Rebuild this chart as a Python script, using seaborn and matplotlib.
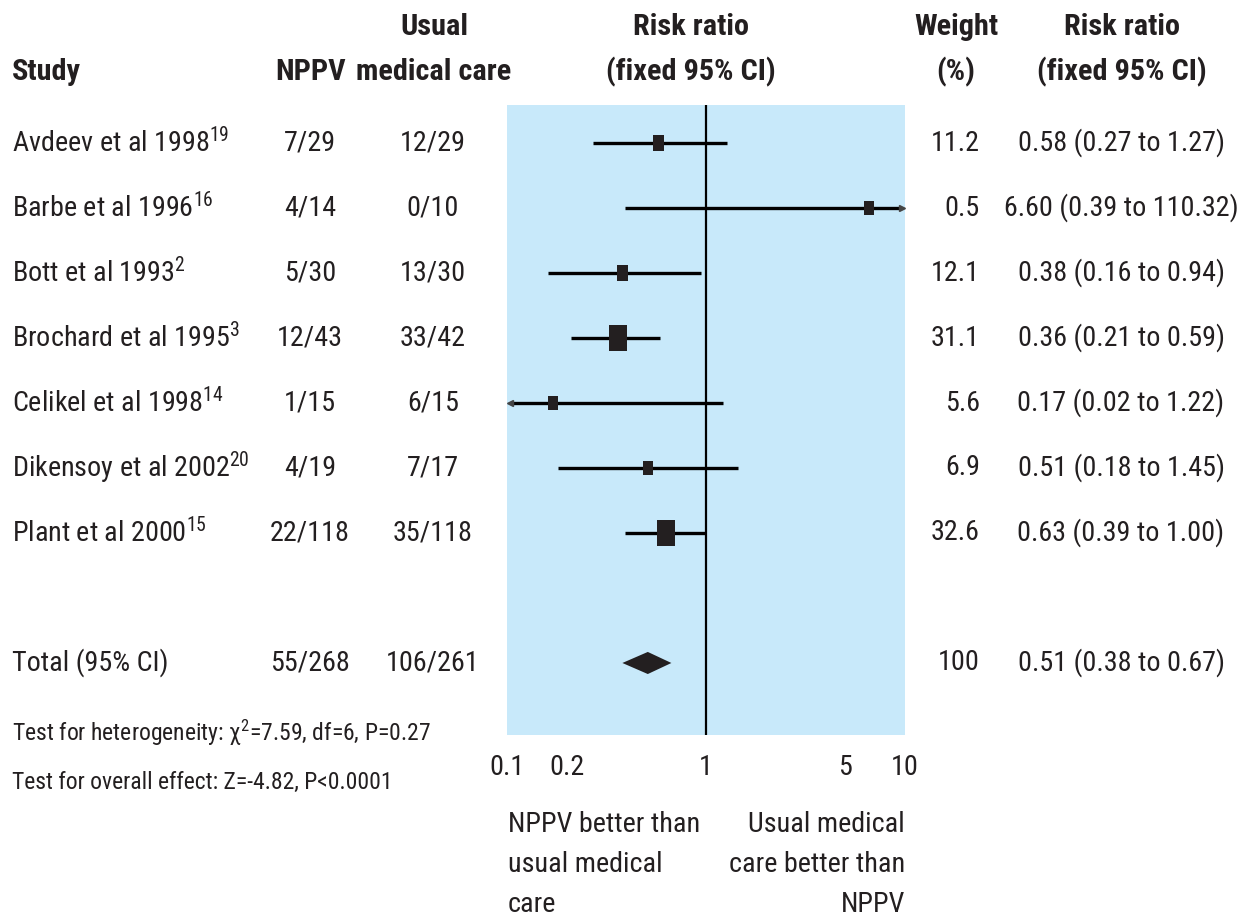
import numpy as np
import pandas as pd
import matplotlib
matplotlib.use("Agg")
import matplotlib.pyplot as plt
import seaborn as sns
from matplotlib import font_manager as fm
from matplotlib.transforms import blended_transform_factory

# ---------------- data ----------------
studies = ["Avdeev et al 1998", "Barbe et al 1996", "Bott et al 1993",
           "Brochard et al 1995", "Celikel et al 1998", "Dikensoy et al 2002",
           "Plant et al 2000"]
refs = ["19", "16", "2", "3", "14", "20", "15"]
nppv = ["7/29", "4/14", "5/30", "12/43", "1/15", "4/19", "22/118"]
usual = ["12/29", "0/10", "13/30", "33/42", "6/15", "7/17", "35/118"]
weights = [11.2, 0.5, 12.1, 31.1, 5.6, 6.9, 32.6]
rr = [0.58, 6.60, 0.38, 0.36, 0.17, 0.51, 0.63]
rr_lo = [0.27, 0.39, 0.16, 0.21, 0.02, 0.18, 0.39]
rr_hi = [1.27, 110.32, 0.94, 0.59, 1.22, 1.45, 1.00]

total_label = "Total (95% CI)"
total_nppv = "55/268"
total_usual = "106/261"
total_weight = "100"
total_rr, total_lo, total_hi = 0.51, 0.38, 0.67

xticks = [0.1, 0.2, 1, 5, 10]
xtick_labels = ["0.1", "0.2", "1", "5", "10"]
heterogeneity = "Test for heterogeneity: χ$^{2}$=7.59, df=6, P=0.27"
overall = "Test for overall effect: Z=-4.82, P<0.0001"
left_note = "NPPV better than\nusual medical\ncare"
right_note = "Usual medical\ncare better than\nNPPV"

# ---------------- style ----------------
sns.set_theme(style="white")


def pick_font():
    for fam in ["Liberation Sans Narrow", "Roboto Condensed", "Open Sans Condensed",
                "Noto Sans Condensed"]:
        try:
            fm.findfont(fm.FontProperties(family=fam), fallback_to_default=False)
            return fam, "normal"
        except Exception:
            pass
    for fam in ["DejaVu Sans", "Noto Sans", "Roboto", "Open Sans"]:
        try:
            p = fm.findfont(fm.FontProperties(family=fam, stretch="condensed"),
                            fallback_to_default=False)
            if "ondensed" in p:
                return fam, "condensed"
        except Exception:
            pass
    return "Liberation Sans", "normal"


FAM, STRETCH = pick_font()
FONT = [FAM, "DejaVu Sans"]
plt.rcParams["font.family"] = FONT
plt.rcParams["font.stretch"] = STRETCH
plt.rcParams["mathtext.fontset"] = "custom"
plt.rcParams["mathtext.rm"] = FAM
plt.rcParams["mathtext.it"] = FAM
plt.rcParams["mathtext.bf"] = FAM + ":bold"

PANEL = "#C8E9FA"
INK = "#231F20"
W, H = 1244, 923

fig = plt.figure(figsize=(W / 100, H / 100), dpi=100)
renderer = fig.canvas.get_renderer()


def fit_size(s, target_px, weight="normal"):
    t = fig.text(0, 0, s, fontsize=10, weight=weight)
    wpx = t.get_window_extent(renderer).width
    t.remove()
    return 10 * target_px / wpx


FS = fit_size("0.58 (0.27 to 1.27)", 205)
FSB = fit_size("(fixed 95% CI)", 170, "bold")
FSS = fit_size("Test for overall effect: Z=-4.82, P<0.0001", 378)

ax = fig.add_axes([507 / W, 1 - 735 / H, (905 - 507) / W, (735 - 105) / H])
ax.set_facecolor(PANEL)
for s in ax.spines.values():
    s.set_visible(False)
ax.set_xscale("log")

rows = np.arange(len(studies))
total_row = len(studies) + 1
xmin, xmax = 0.1, 10

# line of no effect
ax.axvline(1, color="black", lw=1.6, zorder=2)

# confidence intervals (clipped to axis range, arrows where clipped)
for r, lo, hi in zip(rows, rr_lo, rr_hi):
    l = lo if lo >= xmin else xmin * 1.06
    h = hi if hi <= xmax else xmax * 0.95
    ax.hlines(r, l, h, color="black", lw=2.4, zorder=3)
    if hi > xmax:
        ax.plot([xmax * 0.965], [r], marker=">", ms=5, color="#444444", zorder=3)
    if lo < xmin:
        ax.plot([xmin * 1.035], [r], marker="<", ms=5, color="#444444", zorder=3)

# squares, width proportional to sqrt(weight), with a minimum size
df = pd.DataFrame({"rr": rr, "row": rows, "w": weights})
width_px = np.maximum(10, 3.3 * np.sqrt(df["w"].to_numpy()))
height_pt = 1.4 * width_px * 0.72
rect = [(-0.5, -0.7), (0.5, -0.7), (0.5, 0.7), (-0.5, 0.7), (-0.5, -0.7)]
sns.scatterplot(data=df, x="rr", y="row", marker=rect, s=height_pt ** 2,
                color=INK, edgecolor="none", linewidth=0, zorder=4, ax=ax, legend=False)

# total diamond
dh = 0.17
ax.fill([total_lo, total_rr, total_hi, total_rr],
        [total_row, total_row - dh, total_row, total_row + dh],
        color=INK, lw=0, zorder=4)

ax.set_xlabel("")
ax.set_ylabel("")
ax.set_xlim(xmin, xmax)
ax.set_ylim(9.108, -0.585)
ax.set_yticks([])
ax.minorticks_off()
ax.set_xticks(xticks, labels=xtick_labels)
ax.tick_params(axis="x", direction="in", length=11, width=1.6, color="white",
               pad=14, labelsize=FS, labelcolor=INK)

# ---------------- text ----------------
trow = blended_transform_factory(fig.transFigure, ax.transData)


def rtext(xpx, row, s, ha="left", **kw):
    ax.text(xpx / W, row, s, transform=trow, ha=ha, va="center",
            fontsize=FS, color=INK, clip_on=False, **kw)


def ftext(xpx, ypx, s, ha="left", va="center", size=None, **kw):
    fig.text(xpx / W, 1 - ypx / H, s, ha=ha, va=va,
             fontsize=size if size else FS, color=INK, **kw)


# headers
hb = dict(weight="bold", size=FSB)
ftext(12, 72, "Study", **hb)
ftext(311, 72, "NPPV", ha="center", **hb)
ftext(434, 27, "Usual", ha="center", **hb)
ftext(434, 72, "medical care", ha="center", **hb)
ftext(691, 27, "Risk ratio", ha="center", **hb)
ftext(691, 72, "(fixed 95% CI)", ha="center", **hb)
ftext(956, 27, "Weight", ha="center", **hb)
ftext(956, 72, "(%)", ha="center", **hb)
ftext(1122, 27, "Risk ratio", ha="center", **hb)
ftext(1122, 72, "(fixed 95% CI)", ha="center", **hb)

for r, name, ref, a, b, w, m, lo, hi in zip(rows, studies, refs, nppv, usual,
                                             weights, rr, rr_lo, rr_hi):
    rtext(12, r, name + "$^{\\mathrm{" + ref + "}}$")
    rtext(310, r, a, ha="center")
    rtext(433, r, b, ha="center")
    rtext(980, r, f"{w:.1f}", ha="right")
    rtext(1121, r, f"{m:.2f} ({lo:.2f} to {hi:.2f})", ha="center")

rtext(12, total_row, total_label)
rtext(310, total_row, total_nppv, ha="center")
rtext(433, total_row, total_usual, ha="center")
rtext(980, total_row, total_weight, ha="right")
rtext(1121, total_row, f"{total_rr:.2f} ({total_lo:.2f} to {total_hi:.2f})", ha="center")

ftext(12, 733, heterogeneity, size=FSS)
ftext(12, 782, overall, size=FSS)

# notes below the axis: one text per line, 40 px apart
for i, line in enumerate(left_note.split("\n")):
    ftext(508, 825 + 40 * i, line, ha="left")
for i, line in enumerate(right_note.split("\n")):
    ftext(905, 825 + 40 * i, line, ha="right")

fig.savefig("out.png", dpi=100, facecolor="white")
